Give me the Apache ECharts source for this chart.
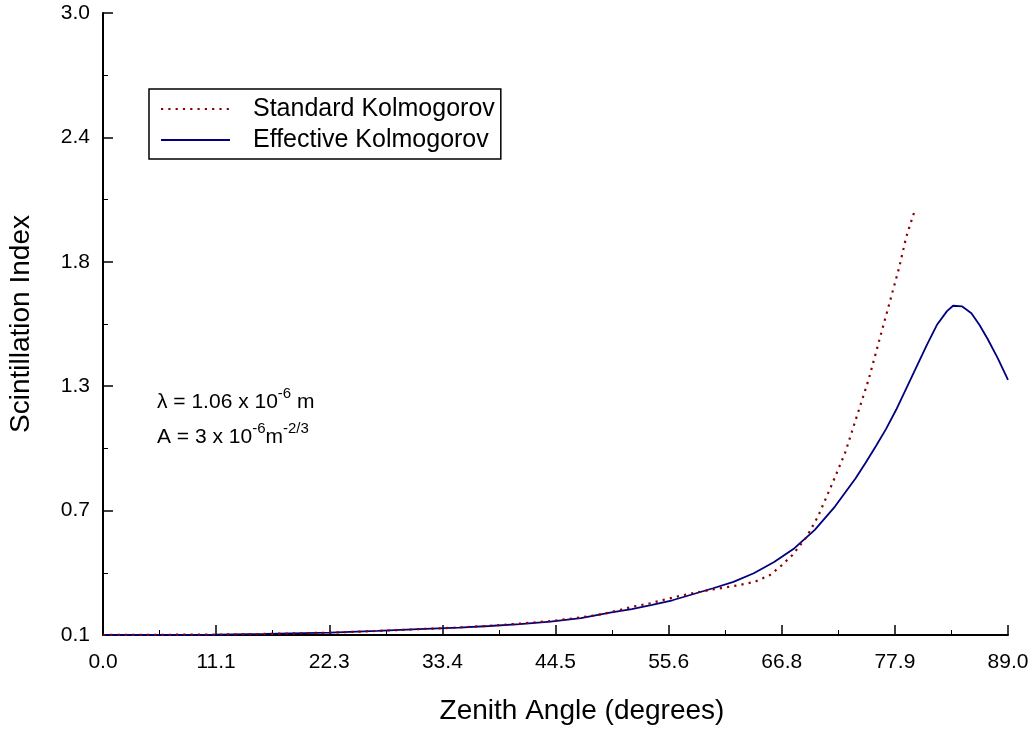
<!DOCTYPE html>
<html>
<head>
<meta charset="utf-8">
<title>Scintillation Index vs Zenith Angle</title>
<script src="https://cdn.jsdelivr.net/npm/echarts@6/dist/echarts.min.js"></script>
<style>
  html, body { margin: 0; padding: 0; background: #fff; }
  #chart { width: 1035px; height: 730px; }
</style>
</head>
<body>
<div id="chart"></div>
<script>
// zenith angle (deg) / scintillation index
var effAngle = [0, 5, 11.1, 16, 22.3, 27, 31, 35, 38, 41, 44, 47, 50, 52, 54, 56, 58, 60, 62, 64, 66, 68, 70, 72, 74, 75, 76, 77, 78, 79, 80, 81, 82, 83, 83.6, 84.5, 85.4, 86.2, 87, 88, 89];
var effIndex = [0.100, 0.101, 0.102, 0.105, 0.111, 0.119, 0.127, 0.134, 0.142, 0.151, 0.162, 0.179, 0.205, 0.221, 0.240, 0.262, 0.290, 0.318, 0.348, 0.388, 0.440, 0.505, 0.590, 0.700, 0.830, 0.903, 0.980, 1.060, 1.150, 1.250, 1.350, 1.450, 1.545, 1.610, 1.635, 1.632, 1.600, 1.545, 1.480, 1.390, 1.290];

var stdAngle = [0, 5, 11.1, 16, 22.3, 27, 31, 35, 38, 41, 44, 47, 49.2, 50.7, 52.1, 53.8, 55.3, 56.7, 58.2, 59.7, 61.2, 62.6, 64.1, 65.6, 66.7, 67.8, 69.2, 70.3, 71.8, 73.0, 74.0, 75.3, 76.3, 77.3, 78.3, 79.0, 79.9];
var stdIndex = [0.100, 0.101, 0.102, 0.105, 0.111, 0.119, 0.127, 0.135, 0.143, 0.153, 0.165, 0.182, 0.198, 0.215, 0.232, 0.248, 0.266, 0.282, 0.297, 0.310, 0.322, 0.333, 0.348, 0.380, 0.423, 0.473, 0.558, 0.651, 0.815, 0.952, 1.100, 1.292, 1.467, 1.640, 1.814, 1.957, 2.090];

// axis ticks
var yTicks = [0.1, 0.68, 1.26, 1.84, 2.42, 3.0];
var yMinorTicks = [0.39, 0.97, 1.55, 2.13, 2.71];

var seriesNames = ['Standard Kolmogorov', 'Effective Kolmogorov'];

function pairs(xs, ys) {
  var out = [];
  for (var i = 0; i < xs.length; i++) out.push([xs[i], ys[i]]);
  return out;
}

var FONT = '"Liberation Sans", Arial, sans-serif';

// superscript text: base bottom-aligned, small part top-aligned
var noteRich = {
  b: { fontSize: 21, fontFamily: FONT, fill: '#000', lineHeight: 27, verticalAlign: 'bottom' },
  s: { fontSize: 15, fontFamily: FONT, fill: '#000', lineHeight: 15, verticalAlign: 'top' }
};

var chart = echarts.init(document.getElementById('chart'), null, { renderer: 'canvas' });

var option = {
  backgroundColor: '#fff',
  animation: false,
  textStyle: { fontFamily: FONT, color: '#000' },
  grid: { left: 103, right: 27, top: 13, bottom: 95, containLabel: false, outerBoundsMode: 'none' },
  legend: {
    orient: 'vertical',
    left: 149,
    top: 89,
    padding: [6, 6, 5, 11],
    itemGap: 3,
    itemWidth: 69,
    itemHeight: 14,
    borderColor: '#000',
    borderWidth: 1.5,
    itemStyle: { opacity: 0 },
    data: seriesNames,
    textStyle: { fontSize: 25, fontFamily: FONT, color: '#000', lineHeight: 28, padding: [0, 0, 0, 18] }
  },
  xAxis: {
    type: 'value',
    min: 0,
    max: 89,
    interval: 11.125,
    name: 'Zenith Angle (degrees)',
    nameLocation: 'middle',
    nameGap: 62,
    nameMoveOverlap: false,
    nameTextStyle: { fontSize: 28, fontFamily: FONT, color: '#000', padding: [0, 0, 0, 53] },
    axisLine: { lineStyle: { color: '#000', width: 2 } },
    axisTick: { inside: true, length: 10, lineStyle: { color: '#000', width: 1.5 } },
    minorTick: { show: true, splitNumber: 2, length: 5, lineStyle: { color: '#000', width: 1 } },
    axisLabel: {
      fontSize: 21, fontFamily: FONT, color: '#000', margin: 17,
      formatter: function (v) { return v.toFixed(1); }
    },
    splitLine: { show: false }
  },
  yAxis: [{
    type: 'value',
    min: 0.1,
    max: 3.0,
    name: 'Scintillation Index',
    nameLocation: 'middle',
    nameGap: 68,
    nameMoveOverlap: false,
    nameTextStyle: { fontSize: 28, fontFamily: FONT, color: '#000' },
    axisLine: { show: true, lineStyle: { color: '#000', width: 2 } },
    axisTick: { show: true, inside: true, length: 10, customValues: yTicks, lineStyle: { color: '#000', width: 1.5 } },
    axisLabel: {
      fontSize: 21, fontFamily: FONT, color: '#000', margin: 13,
      customValues: yTicks,
      formatter: function (v) { return v.toFixed(1); }
    },
    splitLine: { show: false }
  }, {
    type: 'value',
    position: 'left',
    min: 0.1,
    max: 3.0,
    axisLine: { show: false },
    axisTick: { show: true, inside: true, length: 5, customValues: yMinorTicks, lineStyle: { color: '#000', width: 1 } },
    axisLabel: { show: false },
    splitLine: { show: false }
  }],
  graphic: [{
    type: 'text',
    left: 157,
    top: 386,
    style: { text: '{b|λ = 1.06 x 10}{s|-6}{b| m}', rich: noteRich }
  }, {
    type: 'text',
    left: 157,
    top: 421,
    style: { text: '{b|A = 3 x 10}{s|-6}{b|m}{s|-2/3}', rich: noteRich }
  }],
  series: [{
    name: seriesNames[0],
    type: 'line',
    showSymbol: false,
    symbol: 'none',
    data: pairs(stdAngle, stdIndex),
    lineStyle: { color: '#8b0000', width: 2.2, type: [2.2, 5.1] },
    itemStyle: { color: '#8b0000' },
    z: 3
  }, {
    name: seriesNames[1],
    type: 'line',
    showSymbol: false,
    symbol: 'none',
    data: pairs(effAngle, effIndex),
    lineStyle: { color: '#000080', width: 1.8 },
    itemStyle: { color: '#000080' },
    z: 2
  }]
};

chart.setOption(option);
</script>
</body>
</html>
